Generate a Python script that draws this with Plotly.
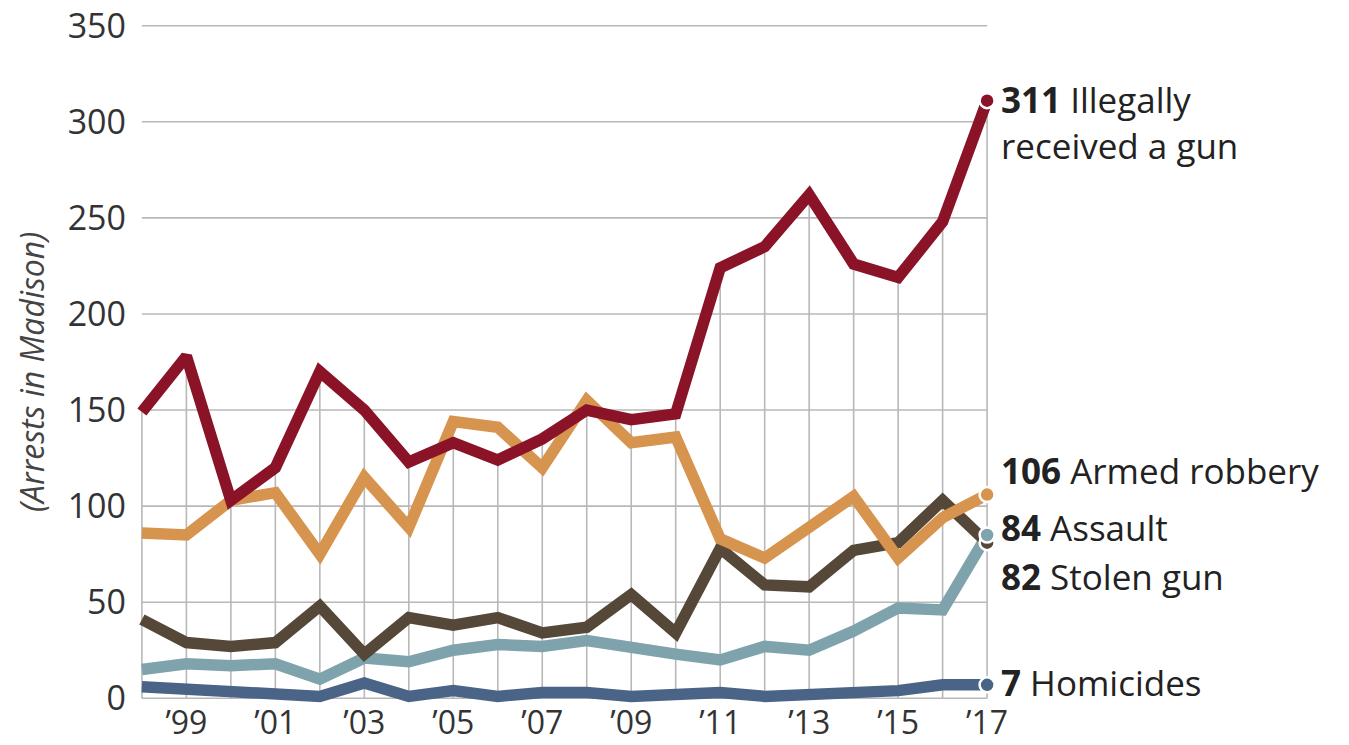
import plotly.graph_objects as go

years = list(range(1998, 2018))
illegal = [149, 178, 103, 120, 170, 150, 123, 133, 124, 135, 150, 145, 148, 224, 235, 262, 226, 219, 248, 311]
robbery = [86, 85, 103, 107, 75, 115, 89, 144, 141, 120, 155, 133, 136, 83, 73, 89, 105, 73, 94, 106]
assault = [41, 29, 27, 29, 48, 23, 42, 38, 42, 34, 37, 54, 34, 78, 59, 58, 77, 81, 103, 81]
stolen = [15, 18, 17, 18, 10, 21, 19, 25, 28, 27, 30, 26, 23, 20, 27, 25, 35, 47, 46, 85]
homicides = [6, 5, 3, 3, 1, 8, 1, 4, 1, 3, 3, 1, 2, 3, 1, 2, 3, 4, 7, 7]

ytick_vals = [0, 50, 100, 150, 200, 250, 300, 350]
xtick_vals = [1999, 2001, 2003, 2005, 2007, 2009, 2011, 2013, 2015, 2017]
xtick_text = ["\u201999", "\u201901", "\u201903", "\u201905", "\u201907", "\u201909", "\u201911", "\u201913", "\u201915", "\u201917"]

end_labels = ["<b>311</b> Illegally<br>received a gun", "<b>106</b> Armed robbery", "<b>84</b> Assault",
              "<b>82</b> Stolen gun", "<b>7</b> Homicides"]

C_RED = "#8a1328"
C_ORANGE = "#d6944f"
C_BROWN = "#564838"
C_TEAL = "#7fa3ad"
C_BLUE = "#4a6488"
GRID = "#b8b8b8"
FONT = "Open Sans"

fig = go.Figure()

# horizontal gridlines
gx, gy = [], []
for v in ytick_vals:
    gx += [years[0], years[-1], None]
    gy += [v, v, None]
fig.add_trace(go.Scatter(x=gx, y=gy, mode="lines", line=dict(color=GRID, width=1.6),
                         hoverinfo="skip", showlegend=False))
# vertical drop lines from red series
vx, vy = [], []
for yr, v in zip(years, illegal):
    vx += [yr, yr, None]
    vy += [0, v, None]
fig.add_trace(go.Scatter(x=vx, y=vy, mode="lines", line=dict(color=GRID, width=1.6),
                         hoverinfo="skip", showlegend=False))

series = [
    (homicides, C_BLUE),
    (stolen, C_TEAL),
    (assault, C_BROWN),
    (robbery, C_ORANGE),
    (illegal, C_RED),
]
for vals, col in series:
    fig.add_trace(go.Scatter(x=years, y=vals, mode="lines",
                             line=dict(color=col, width=11.5, shape="linear"),
                             showlegend=False, hoverinfo="skip"))

# end markers
for vals, col in [(homicides, C_BLUE), (assault, C_BROWN), (stolen, C_TEAL), (robbery, C_ORANGE), (illegal, C_RED)]:
    fig.add_trace(go.Scatter(x=[years[-1]], y=[vals[-1]], mode="markers",
                             marker=dict(color=col, size=15, line=dict(color="white", width=2.5)),
                             cliponaxis=False, showlegend=False, hoverinfo="skip"))

# end labels
label_specs = [
    (illegal[-1], end_labels[0], -22),
    (robbery[-1], end_labels[1], 24),
    (assault[-1], end_labels[2], 15),
    (stolen[-1], end_labels[3], -42),
    (homicides[-1], end_labels[4], 2),
]
for v, txt, ys in label_specs:
    fig.add_annotation(x=years[-1], y=v, text=txt, showarrow=False, xanchor="left", yanchor="middle",
                       xshift=12, yshift=ys, align="left",
                       font=dict(family=FONT, size=35, color="#222222"))

fig.add_annotation(xref="paper", yref="paper", x=-0.117, y=0.4855, text="<i>(Arrests in Madison)</i>",
                   textangle=-90, showarrow=False, xanchor="center", yanchor="middle",
                   font=dict(family=FONT, size=32, color="#444444"))

fig.update_layout(
    width=1349, height=745,
    margin=dict(l=133, r=353, t=18, b=39),
    paper_bgcolor="white", plot_bgcolor="white",
    showlegend=False,
    xaxis=dict(range=[1997.8, 2017.2], showgrid=False, zeroline=False, showline=False, automargin=False,
               tickmode="array", tickvals=xtick_vals, ticktext=xtick_text, ticks="",
               tickfont=dict(family=FONT, size=32, color="#333333"), ticklabelstandoff=-5),
    yaxis=dict(range=[-4, 354], showgrid=False, zeroline=False, showline=False, automargin=False,
               tickmode="array", tickvals=ytick_vals, ticks="",
               tickfont=dict(family=FONT, size=34, color="#333333"), ticklabelstandoff=6),
)

fig.write_html("out.html")
